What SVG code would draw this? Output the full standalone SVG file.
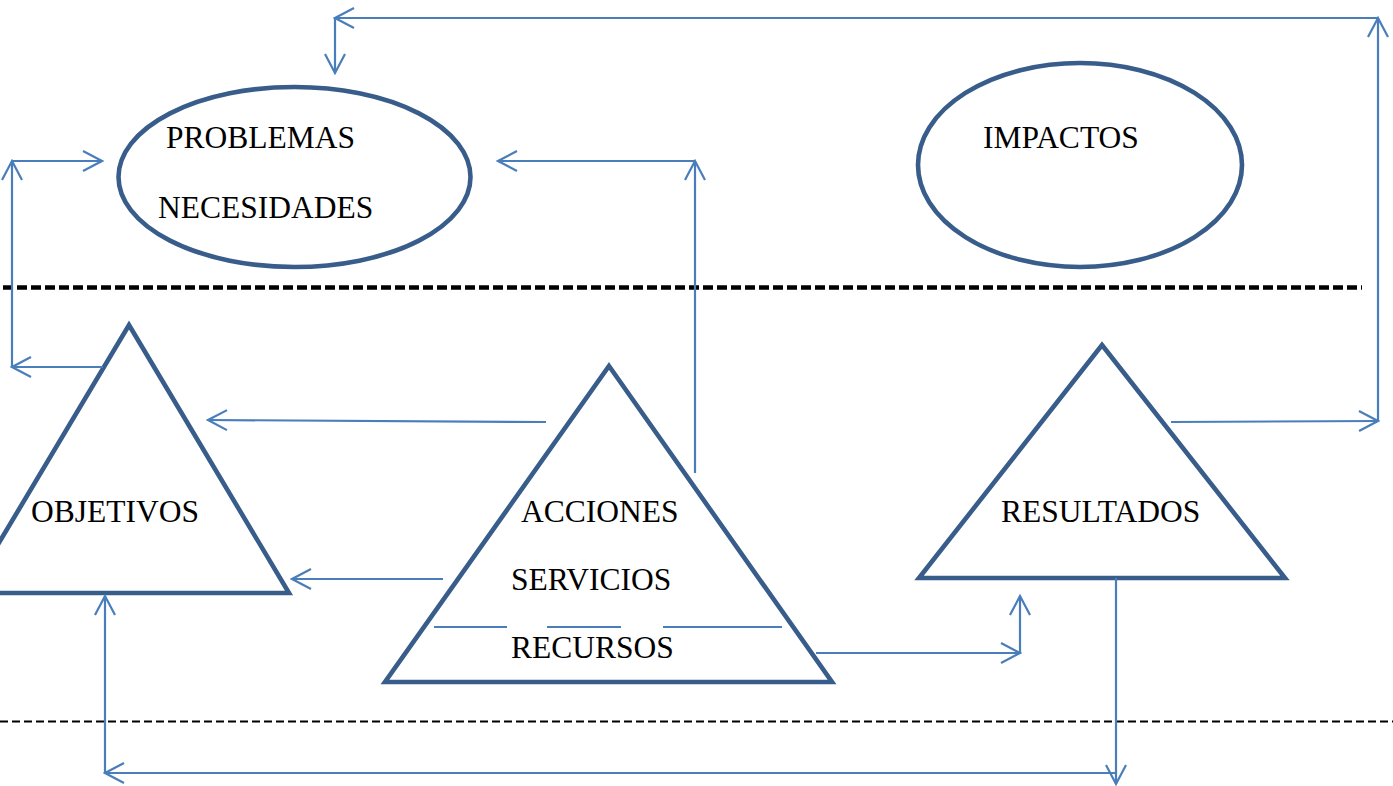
<svg xmlns="http://www.w3.org/2000/svg" width="1393" height="786" viewBox="0 0 1393 786">
<style>
.shape{fill:none;stroke:#385d8a;stroke-width:4.6;stroke-linejoin:miter}
.conn{fill:none;stroke:#4a7ebb;stroke-width:2.2;marker-end:url(#arr)}
.plain{fill:none;stroke:#4a7ebb;stroke-width:2.2}
.lbl{font-family:"Liberation Serif","Times New Roman",serif;font-size:31.5px;fill:#000}
</style>
<defs>
<marker id="arr" viewBox="-22 -12 24 24" refX="0" refY="0" markerWidth="24" markerHeight="24" markerUnits="userSpaceOnUse" orient="auto">
<path d="M-19,-10 L0,0 L-19,10" fill="none" stroke="#4a7ebb" stroke-width="2.2"/>
</marker>
</defs>
<rect width="1393" height="786" fill="#fff"/>
<line x1="3" y1="287.5" x2="1362" y2="287.5" stroke="#000" stroke-width="4.5" stroke-dasharray="10 4"/>
<line x1="0" y1="721.5" x2="1393" y2="721.5" stroke="#000" stroke-width="2" stroke-dasharray="8 4"/>
<g id="problemas">
<ellipse class="shape" cx="294.5" cy="177" rx="176" ry="90"/>
<text class="lbl" x="166" y="148">PROBLEMAS</text>
<text class="lbl" x="158" y="218">NECESIDADES</text>
</g>
<g id="impactos">
<ellipse class="shape" cx="1080" cy="165" rx="162" ry="102"/>
<text class="lbl" x="983" y="148">IMPACTOS</text>
</g>
<g id="objetivos">
<polygon class="shape" points="129,325 289,593 -31,593"/>
<text class="lbl" x="31" y="522">OBJETIVOS</text>
</g>
<g id="acciones">
<polygon class="shape" points="609,366 832,682 385,682"/>
<line class="plain" x1="434" y1="627" x2="507" y2="627"/>
<line class="plain" x1="547" y1="627" x2="621" y2="627"/>
<line class="plain" x1="663" y1="627" x2="782" y2="627"/>
<text class="lbl" x="521" y="522">ACCIONES</text>
<text class="lbl" x="511" y="590">SERVICIOS</text>
<text class="lbl" x="511" y="658">RECURSOS</text>
</g>
<g id="resultados">
<polygon class="shape" points="1102,345 1285,578 919,578"/>
<text class="lbl" x="1001" y="522">RESULTADOS</text>
</g>
<g id="connectors">
<path class="conn" d="M1171,422 L1378,421"/>
<path class="conn" d="M1378,421 L1378,18"/>
<path class="conn" d="M1378,18 L335,18"/>
<path class="conn" d="M335,18 L335,73"/>
<path class="conn" d="M695,473 L695,161"/>
<path class="conn" d="M695,161 L498,161"/>
<path class="conn" d="M103,367 L12,367"/>
<path class="conn" d="M12,367 L12,161"/>
<path class="conn" d="M12,161 L102,161"/>
<path class="conn" d="M546,422 L208,420"/>
<path class="conn" d="M443,579 L292,579"/>
<path class="conn" d="M816,653 L1020,653"/>
<path class="conn" d="M1020,653 L1020,596"/>
<path class="conn" d="M1116,578 L1116,784"/>
<path class="conn" d="M1116,773 L105,773"/>
<path class="conn" d="M105,773 L105,596"/>
</g>
</svg>
